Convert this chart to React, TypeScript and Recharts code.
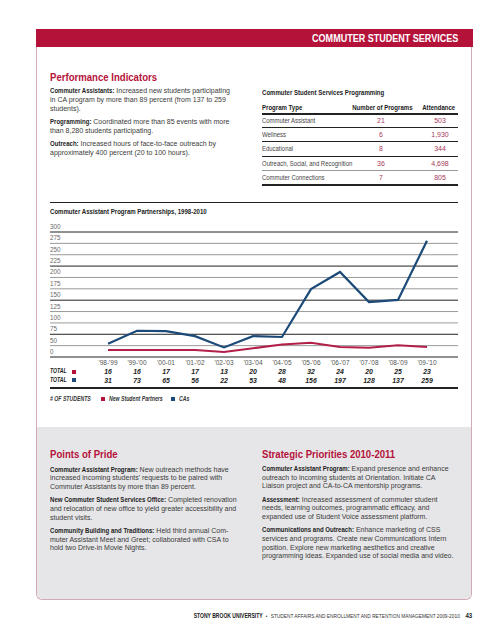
import React, { useLayoutEffect, useRef, useState } from 'react';
import { LineChart, Line, XAxis, YAxis, ReferenceLine } from 'recharts';

const seasons = ["'98-'99", "'99-'00", "'00-01", "'01-'02", "'02-'03", "'03-'04", "'04-'05", "'05-'06", "'06-'07", "'07-'08", "'08-'09", "'09-'10"];
// plotted positions as drawn in the chart
const partnersLine = [17, 17, 17, 17, 12, 21, 30, 34, 24, 22, 28, 24];
const casLine = [32, 63, 62, 50, 23, 50, 48, 163, 204, 132, 137, 279];
// totals printed under the chart
const partnersTotal = [16, 16, 17, 17, 13, 20, 28, 32, 24, 20, 25, 23];
const casTotal = [31, 73, 65, 56, 22, 53, 48, 156, 197, 128, 137, 259];
// the printed scale skips 25: twelve evenly spaced rules from 0 to 300
const yTickLabels = ['0', '50', '75', '100', '125', '150', '175', '200', '225', '250', '275', '300'];
const Y_MAX = 300;

const programTypes = ['Commuter Assistant', 'Wellness', 'Educational', 'Outreach, Social, and Recognition', 'Commuter Connections'];
const programCounts = [21, 6, 8, 36, 7];
const programAttendance = ['503', '1,930', '344', '4,698', '805'];

const RED = '#b5123a';
const BLUE = '#1b4a78';
const LINE_RED = '#b2204a';
const FONT = "'Liberation Sans', Arial, sans-serif";

const chartData = seasons.map((season, i) => ({
  season,
  partners: partnersLine[i],
  cas: casLine[i],
  partnersTotal: partnersTotal[i],
  casTotal: casTotal[i],
}));

const yTicks = yTickLabels.map((_, i) => (i * Y_MAX) / (yTickLabels.length - 1));
const labelFor = (v: number) => yTickLabels[Math.round((v / Y_MAX) * (yTickLabels.length - 1))];

// no condensed face is installed, so squeeze the text horizontally
const Cond = ({ children, scale = 0.82, right = false, style }: { children: React.ReactNode; scale?: number; right?: boolean; style?: React.CSSProperties }) => {
  const ref = useRef<HTMLSpanElement>(null);
  const [w, setW] = useState(0);
  useLayoutEffect(() => {
    if (ref.current) setW(ref.current.offsetWidth);
  }, []);
  const shrink = -w * (1 - scale);
  return (
    <span
      ref={ref}
      style={{
        display: 'inline-block',
        whiteSpace: 'nowrap',
        transform: `scaleX(${scale})`,
        transformOrigin: right ? 'right center' : 'left center',
        marginLeft: right ? shrink : 0,
        marginRight: right ? 0 : shrink,
        ...style,
      }}
    >
      {children}
    </span>
  );
};

type Para = { lead: string; lines: string[] };

const indicators: Para[] = [
  { lead: 'Commuter Assistants:', lines: [' Increased new students participating', 'in CA program by more than 89 percent (from 137 to 259', 'students).'] },
  { lead: 'Programming:', lines: [' Coordinated more than 85 events with more', 'than 8,280 students participating.'] },
  { lead: 'Outreach:', lines: [' Increased hours of face-to-face outreach by', 'approximately 400 percent (20 to 100 hours).'] },
];

const pride: Para[] = [
  { lead: 'Commuter Assistant Program:', lines: [' New outreach methods have', "increased incoming students' requests to be paired with", 'Commuter Assistants by more than 89 percent.'] },
  { lead: 'New Commuter Student Services Office:', lines: [' Completed renovation', 'and relocation of new office to yield greater accessibility and', 'student visits.'] },
  { lead: 'Community Building and Traditions:', lines: [' Held third annual Com-', 'muter Assistant Meet and Greet; collaborated with CSA to', 'hold two Drive-in Movie Nights.'] },
];

const priorities: Para[] = [
  { lead: 'Commuter Assistant Program:', lines: [' Expand presence and enhance', 'outreach to incoming students at Orientation. Initiate CA', 'Liaison project and CA-to-CA mentorship programs.'] },
  { lead: 'Assessment:', lines: [' Increased assessment of commuter student', 'needs, learning outcomes, programmatic efficacy, and', 'expanded use of Student Voice assessment platform.'] },
  { lead: 'Communications and Outreach:', lines: [' Enhance marketing of CSS', 'services and programs. Create new Communications Intern', 'position. Explore new marketing aesthetics and creative', 'programming ideas. Expanded use of social media and video.'] },
];

const Paragraphs = ({ items, left, top }: { items: Para[]; left: number; top: number }) => (
  <div style={{ position: 'absolute', left, top, fontFamily: FONT, fontSize: 7, lineHeight: '8.7px', color: '#3a3a3a', whiteSpace: 'pre' }}>
    {items.map((p) => (
      <div key={p.lead} style={{ marginBottom: 4.6 }}>
        {p.lines.map((l, i) => (
          <div key={i} style={{ height: 8.7 }}>
            {i === 0 && <Cond style={{ fontWeight: 700, fontSize: 7.4, color: '#1e1e1e' }}>{p.lead}</Cond>}
            {l}
          </div>
        ))}
      </div>
    ))}
  </div>
);

const Heading = ({ left, top, children }: { left: number; top: number; children: React.ReactNode }) => (
  <div style={{ position: 'absolute', left, top, fontFamily: FONT, fontWeight: 700, fontSize: 11.7, lineHeight: '16px', color: RED }}>
    <Cond>{children}</Cond>
  </div>
);

const YTick = (props: any) => {
  const { x, y, payload } = props;
  return (
    <text x={x} y={y - 3} textAnchor="start" fontSize={6.3} fontFamily={FONT} fill="#6a6a6a">
      {labelFor(payload.value)}
    </text>
  );
};

const SeasonTick = (props: any) => {
  const { x, y, payload } = props;
  const row = chartData.find((d) => d.season === payload.value);
  return (
    <g fontFamily={FONT} textAnchor="middle">
      <text x={x} y={y + 8.3} fontSize={6.5} fill="#555">{payload.value}</text>
      <text x={x} y={y + 17.2} fontSize={6.9} fill="#222" fontWeight={700} fontStyle="italic">{row?.partnersTotal}</text>
      <text x={x} y={y + 25.7} fontSize={6.9} fill="#222" fontWeight={700} fontStyle="italic">{row?.casTotal}</text>
    </g>
  );
};

const Square = ({ color }: { color: string }) => (
  <span style={{ display: 'inline-block', width: 4, height: 4, background: color, verticalAlign: 'middle' }} />
);

export default function App() {
  return (
    <div style={{ position: 'relative', width: 495, height: 640, background: '#fff', overflow: 'hidden' }}>
      <style>{'body{margin:0}'}</style>

      {/* panel frame */}
      <div style={{ position: 'absolute', left: 36, top: 29, width: 436, height: 571, border: '1px solid #d6aab5', borderTop: 'none', borderRadius: '0 0 6px 6px', boxSizing: 'border-box' }} />
      <div style={{ position: 'absolute', left: 37, top: 427, width: 434, height: 172, background: '#e6e6e8', borderRadius: '0 0 5px 5px' }} />

      {/* header bar */}
      <div style={{ position: 'absolute', left: 36, top: 29, width: 437, height: 18, background: RED, color: '#fff', fontFamily: FONT, fontWeight: 700, fontSize: 11, lineHeight: '18px', textAlign: 'right', paddingRight: 15, boxSizing: 'border-box' }}>
        <Cond right>COMMUTER STUDENT SERVICES</Cond>
      </div>

      <Heading left={50} top={69}>Performance Indicators</Heading>
      <Paragraphs items={indicators} left={50} top={87.3} />

      {/* programming table */}
      <div style={{ position: 'absolute', left: 262, top: 87.5, fontFamily: FONT, fontWeight: 700, fontSize: 7.4, lineHeight: '9px', color: '#222' }}>
        <Cond>Commuter Student Services Programming</Cond>
      </div>
      <div style={{ position: 'absolute', left: 262, top: 102.8, width: 196, height: 9, fontFamily: FONT, fontWeight: 700, fontSize: 7.4, lineHeight: '9px', color: '#222' }}>
        <Cond>Program Type</Cond>
        <span style={{ position: 'absolute', right: 45, top: 0 }}><Cond right>Number of Programs</Cond></span>
        <span style={{ position: 'absolute', right: 3, top: 0 }}><Cond right>Attendance</Cond></span>
      </div>
      <div style={{ position: 'absolute', left: 262, top: 113.3, width: 196, height: 1.5, background: '#222' }} />
      {programTypes.map((t, i) => (
        <React.Fragment key={t}>
          <div style={{ position: 'absolute', left: 262, top: 116 + i * 14.2, width: 196, height: 9, fontFamily: FONT, fontSize: 7, lineHeight: '9px', color: '#444' }}>
            <Cond scale={0.85}>{t}</Cond>
            <span style={{ position: 'absolute', left: 109, width: 20, textAlign: 'center', top: 0, color: '#a8385a' }}>{programCounts[i]}</span>
            <span style={{ position: 'absolute', left: 163, width: 30, textAlign: 'center', top: 0, color: '#a8385a' }}>{programAttendance[i]}</span>
          </div>
          <div style={{ position: 'absolute', left: 262, top: 127 + i * 14.3, width: 196, height: i === 3 ? 1.5 : i === 4 ? 1.6 : 1, background: i === 3 ? '#999' : '#222' }} />
        </React.Fragment>
      ))}

      {/* chart section */}
      <div style={{ position: 'absolute', left: 50, top: 201.5, width: 408, height: 1.5, background: '#222' }} />
      <div style={{ position: 'absolute', left: 50, top: 207, fontFamily: FONT, fontWeight: 700, fontSize: 7.4, lineHeight: '9px', color: '#222' }}>
        <Cond>Commuter Assistant Program Partnerships, 1998-2010</Cond>
      </div>

      <div style={{ position: 'absolute', left: 0, top: 220 }}>
        <LineChart width={495} height={168} data={chartData} margin={{ top: 12, right: 37, bottom: 1, left: 50 }}>
          <XAxis dataKey="season" interval={0} axisLine={false} tickLine={false} tickSize={0} tickMargin={0} height={30} padding={{ left: 58, right: 31 }} tick={<SeasonTick />} />
          <YAxis type="number" domain={[0, Y_MAX]} ticks={yTicks} interval={0} mirror axisLine={false} tickLine={false} tickSize={0} tickMargin={0} tick={<YTick />} />
          {yTicks.map((v) => (
            <ReferenceLine key={v} y={v} stroke={Number(labelFor(v)) % 75 === 0 ? '#222' : '#9a9a9a'} strokeWidth={1} />
          ))}
          <Line type="linear" dataKey="partners" stroke={LINE_RED} strokeWidth={2} dot={false} isAnimationActive={false} />
          <Line type="linear" dataKey="cas" stroke={BLUE} strokeWidth={2.2} dot={false} isAnimationActive={false} />
        </LineChart>
      </div>

      <div style={{ position: 'absolute', left: 50, top: 367.3, fontFamily: FONT, fontWeight: 700, fontStyle: 'italic', fontSize: 6.6, lineHeight: '8.6px', color: '#222' }}>
        <div><Cond scale={0.78}>TOTAL</Cond><span style={{ marginLeft: 5 }} /><Square color={RED} /></div>
        <div><Cond scale={0.78}>TOTAL</Cond><span style={{ marginLeft: 5 }} /><Square color={BLUE} /></div>
      </div>
      <div style={{ position: 'absolute', left: 50, top: 387.3, width: 408, height: 1.5, background: '#222' }} />

      <div style={{ position: 'absolute', left: 50, top: 395, fontFamily: FONT, fontWeight: 700, fontStyle: 'italic', fontSize: 6.3, lineHeight: '8px', color: '#333', whiteSpace: 'nowrap' }}>
        <Cond>#&nbsp;OF STUDENTS</Cond>
        <span style={{ marginLeft: 10 }} /><Square color={RED} />
        <span style={{ marginLeft: 4 }} /><Cond>New Student Partners</Cond>
        <span style={{ marginLeft: 9 }} /><Square color={BLUE} />
        <span style={{ marginLeft: 4 }} /><Cond>CAs</Cond>
      </div>

      {/* grey section */}
      <Heading left={50} top={446}>Points of Pride</Heading>
      <Heading left={262} top={446}>Strategic Priorities 2010-2011</Heading>
      <Paragraphs items={pride} left={50} top={465.6} />
      <Paragraphs items={priorities} left={262} top={465} />

      {/* footer */}
      <div style={{ position: 'absolute', right: 23, top: 611, fontFamily: FONT, fontSize: 6, lineHeight: '10px', color: '#333', whiteSpace: 'nowrap' }}>
        <Cond right scale={0.8}>
          <span style={{ fontWeight: 700, fontSize: 6.3, color: '#222' }}>STONY BROOK UNIVERSITY</span>
          <span style={{ margin: '0 4px' }}>•</span>
          <span>STUDENT AFFAIRS AND ENROLLMENT AND RETENTION MANAGEMENT 2009-2010</span>
          <span style={{ fontWeight: 700, fontSize: 7.6, marginLeft: 7, color: '#222' }}>43</span>
        </Cond>
      </div>
    </div>
  );
}
